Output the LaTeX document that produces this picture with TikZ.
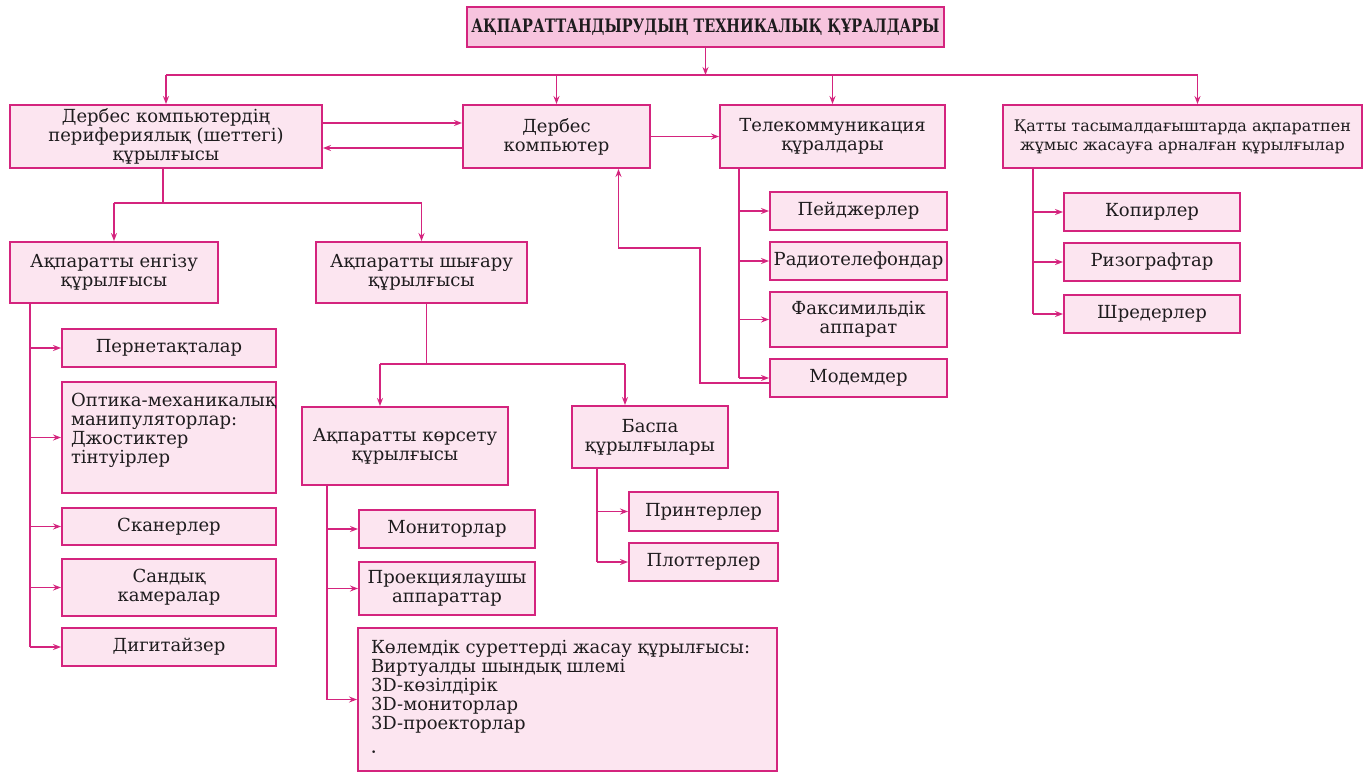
\documentclass[tikz,border=0pt]{standalone}
\usepackage{fontspec}
\setmainfont{DejaVu Serif}
\usetikzlibrary{arrows.meta}

\definecolor{edge}{RGB}{212,36,126}
\definecolor{boxfill}{RGB}{252,229,240}
\definecolor{headfill}{RGB}{247,196,222}
\definecolor{ink}{RGB}{30,28,30}

\tikzset{
  box/.style={draw=edge, line width=1.9pt, fill=boxfill, text=ink, align=center,
              inner sep=1pt, font=\fontsize{18}{19}\selectfont},
  head/.style={box, fill=headfill, font=\bfseries\fontsize{18.5}{20}\selectfont},
  link/.style={draw=edge, line width=1.9pt},
  arr/.style={link, -{Stealth[length=8pt,width=6pt]}},
}

% box from its corners: [style]{name}{x1}{y1}{x2}{y2}{text}
\newcommand\bx[7][box]{%
  \node[#1, minimum width={(#5-#3)*1pt}, minimum height={(#6-#4)*1pt}]
    (#2) at ({(#3+#5)/2},{(#4+#6)/2}) {#7};}

\begin{document}
\begin{tikzpicture}[x=1pt,y=-1pt]
\useasboundingbox (0,0) rectangle (1369,772);

% heading
\bx[head]{title}{467}{7}{944}{47}{\scalebox{0.78}[1]{АҚПАРАТТАНДЫРУДЫҢ ТЕХНИКАЛЫҚ ҚҰРАЛДАРЫ}}

% first level
\bx{per}{10}{105}{322}{168}{Дербес компьютердің\\перифериялық (шеттегі)\\құрылғысы}
\bx{pc}{463}{105}{650}{168}{Дербес\\компьютер}
\bx{tel}{720}{105}{945}{168}{Телекоммуникация\\құралдары}
\bx{hard}{1003}{105}{1362}{168}{\fontsize{16}{19}\selectfont Қатты тасымалдағыштарда ақпаратпен\\
  \fontsize{16}{19}\selectfont жұмыс жасауға арналған құрылғылар}

% peripheral devices
\bx{inp}{10}{242}{218}{303}{Ақпаратты енгізу\\құрылғысы}
\bx{outp}{316}{242}{527}{303}{Ақпаратты шығару\\құрылғысы}

\bx{keyb}{62}{329}{276}{367}{Пернетақталар}
\bx{optic}{62}{382}{276}{493}{\parbox[c][88pt][t]{196pt}{\raggedright
  \mbox{Оптика-механикалық}\\манипуляторлар:\\Джостиктер\\тінтуірлер}}
\bx{scan}{62}{508}{276}{545}{Сканерлер}
\bx{cam}{62}{559}{276}{616}{Сандық\\камералар}
\bx{digit}{62}{628}{276}{666}{Дигитайзер}

\bx{disp}{302}{407}{508}{485}{Ақпаратты көрсету\\құрылғысы}
\bx{print}{572}{406}{728}{468}{Баспа\\құрылғылары}

\bx{mon}{359}{510}{535}{548}{Мониторлар}
\bx{proj}{359}{562}{535}{615}{Проекциялаушы\\аппараттар}
\bx{vol}{358}{628}{777}{771}{\parbox[c][119pt][t]{393pt}{\raggedright
  Көлемдік суреттерді жасау құрылғысы:\\Виртуалды шындық шлемі\\3D-көзілдірік\\%
  3D-мониторлар\\3D-проекторлар\\[7pt]{\fontsize{9}{9}\selectfont •}}}

\bx{prn}{629}{492}{778}{531}{Принтерлер}
\bx{plot}{629}{543}{778}{581}{Плоттерлер}

% telecommunication
\bx{pager}{770}{192}{947}{230}{Пейджерлер}
\bx{radio}{770}{242}{947}{280}{Радиотелефондар}
\bx{fax}{770}{292}{947}{347}{Факсимильдік\\аппарат}
\bx{modem}{770}{359}{947}{397}{Модемдер}

% hard-copy devices
\bx{copy}{1064}{193}{1240}{231}{Копирлер}
\bx{riso}{1064}{243}{1240}{281}{Ризографтар}
\bx{shred}{1064}{295}{1240}{333}{Шредерлер}

% main bus under the heading
\coordinate (bus) at (title.south |- 0,75);
\coordinate (hardin) at ([xshift=15pt]hard.north);
\draw[arr] (title.south) -- (bus);
\draw[link] (per.north |- bus) -- (hardin |- bus);
\foreach \n in {per,pc,tel} \draw[arr] (\n.north |- bus) -- (\n.north);
\draw[arr] (hardin |- bus) -- (hardin);

% exchange between computer and its peripherals
\draw[arr] (per.east |- 0,123) -- (pc.west |- 0,123);
\draw[arr] (pc.west |- 0,148) -- (per.east |- 0,148);
\draw[arr] (pc.east) -- (tel.west);
\coordinate (pcin) at ([xshift=62pt]pc.south);
\draw[arr] ([yshift=-5pt]modem.west) -| (700,248) -| (pcin);

% input / output split
\coordinate (perout) at ([xshift=-3pt]per.south);
\coordinate (split) at (perout |- 0,203);
\draw[link] (perout) -- (split);
\draw[link] (inp.north |- split) -- (outp.north |- split);
\draw[arr] (inp.north |- split) -- (inp.north);
\draw[arr] (outp.north |- split) -- (outp.north);

% input devices
\coordinate (itr) at (30,0);
\draw[link] (inp.south -| itr) -- (digit.west -| itr);
\foreach \c in {keyb,optic,scan,cam,digit} \draw[arr] (\c.west -| itr) -- (\c.west);

% output devices
\coordinate (outstem) at ([xshift=5pt]outp.south);
\coordinate (obus) at (outstem |- 0,364);
\coordinate (dispin) at (380,0);
\coordinate (printin) at (625,0);
\draw[link] (outstem) -- (obus);
\draw[link] (dispin |- obus) -- (printin |- obus);
\draw[arr] (dispin |- obus) -- (disp.north -| dispin);
\draw[arr] (printin |- obus) -- (print.north -| printin);

\coordinate (dtr) at (327,0);
\draw[link] (disp.south -| dtr) -- (vol.west -| dtr);
\foreach \c in {mon,proj,vol} \draw[arr] (\c.west -| dtr) -- (\c.west);

\coordinate (ptr) at (597,0);
\draw[link] (print.south -| ptr) -- (plot.west -| ptr);
\foreach \c in {prn,plot} \draw[arr] (\c.west -| ptr) -- (\c.west);

% telecommunication devices
\coordinate (ttr) at (739,0);
\draw[link] (tel.south -| ttr) -- (modem.west -| ttr);
\foreach \c in {pager,radio,fax,modem} \draw[arr] (\c.west -| ttr) -- (\c.west);

% hard-copy devices
\coordinate (htr) at (1033,0);
\draw[link] (hard.south -| htr) -- (shred.west -| htr);
\foreach \c in {copy,riso,shred} \draw[arr] (\c.west -| htr) -- (\c.west);
\end{tikzpicture}
\end{document}
